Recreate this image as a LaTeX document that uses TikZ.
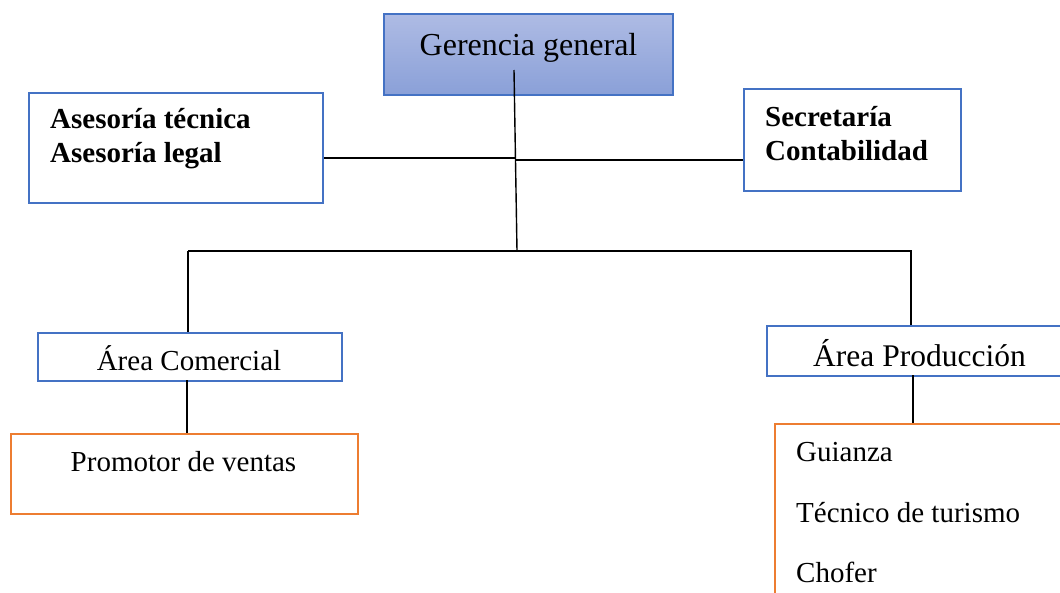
\documentclass[tikz,border=0pt]{standalone}
\usepackage{fontspec}
\setmainfont{Liberation Serif}
\definecolor{boxblue}{RGB}{68,114,196}
\definecolor{boxorange}{RGB}{237,125,49}
\definecolor{gtop}{RGB}{174,187,228}
\definecolor{gbot}{RGB}{138,160,216}
\begin{document}
\begin{tikzpicture}[x=1pt,y=-1pt,
  bluebox/.style={draw=boxblue,line width=2pt,rectangle,inner sep=0pt},
  orangebox/.style={draw=boxorange,line width=2pt,rectangle,inner sep=0pt},
  conn/.style={draw=black,line width=1.4pt},
  body/.style={font=\fontsize{29}{34}\selectfont,anchor=base west,inner sep=0pt},
  bodyc/.style={font=\fontsize{29}{34}\selectfont,anchor=base,inner sep=0pt},
  bold/.style={font=\fontsize{29}{34}\selectfont\bfseries,anchor=base west,inner sep=0pt}]
\useasboundingbox (0,0) rectangle (1060,592);
\clip (0,0) rectangle (1060,592);
% boxes
\path[bluebox,top color=gtop,bottom color=gbot] (384,14) rectangle (673,95);
\node[inner sep=0pt] (ger) at (528.5,54.5) {};
\node[bluebox,minimum width=294pt,minimum height=110pt,anchor=north west] (ases) at (28,92) {};
\node[bluebox,minimum width=217pt,minimum height=102pt,anchor=north west] (secr) at (743,88) {};
\node[bluebox,minimum width=304pt,minimum height=48pt,anchor=north west] (acom) at (37,332) {};
\node[orangebox,minimum width=347pt,minimum height=80pt,anchor=north west] (prom) at (10,433) {};
\node[bluebox,minimum width=320pt,minimum height=50pt,anchor=north west] (aprod) at (766,325) {};
\node[orangebox,minimum width=320pt,minimum height=200pt,anchor=north west] (serv) at (774,423) {};
% texts
\node[font=\fontsize{32}{38}\selectfont,anchor=base,inner sep=0pt] (tger) at (528.5,55) {Gerencia general};
\node[bold] (t1) at (50,128) {Asesoría técnica};
\node[bold] (t2) at (50,162) {Asesoría legal};
\node[bold] (t3) at (765,126) {Secretaría};
\node[bold] (t4) at (765,160) {Contabilidad};
\node[bodyc] (t5) at (189,370) {Área Comercial};
\node[bodyc] (t6) at (183.5,471) {Promotor de ventas};
\node[body,font=\fontsize{31.5}{38}\selectfont] (t7) at (813,366) {Área Producción};
\node[body] (t8) at (796,461) {Guianza};
\node[body] (t9) at (796,522) {Técnico de turismo};
\node[body] (t10) at (796,582) {Chofer};
% connectors
\coordinate (gstart) at (514,70);
\coordinate (hub) at (517,251);
\coordinate (midL) at (515,158);
\coordinate (midR) at (515,160);
\coordinate (busL) at (188,251);
\coordinate (busR) at (912,251);
\draw[conn] (gstart) -- (hub);
\draw[conn] (ases.east |- midL) -- (midL);
\draw[conn] (midR) -- (secr.west |- midR);
\draw[conn] (busL) -- (busR);
\draw[conn] (busL) -- (busL |- acom.north);
\draw[conn] (911,251) -- (911,325);
\draw[conn] (187,380) -- (187,433);
\draw[conn] (913,375) -- (913,423);
\end{tikzpicture}
\end{document}
